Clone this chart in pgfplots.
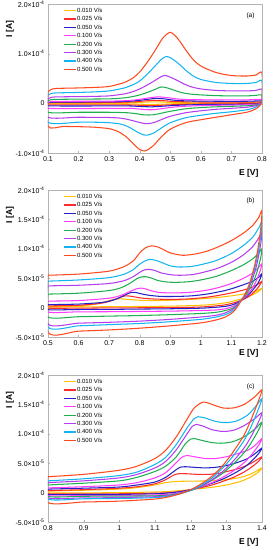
\documentclass[border=0pt]{standalone}
\usepackage{fontspec}
\setmainfont{Liberation Sans}
\usepackage{pgfplots}
\pgfplotsset{compat=1.18}
\definecolor{c010}{HTML}{FFC000}
\definecolor{c025}{HTML}{FF2A2A}
\definecolor{c050}{HTML}{2323C8}
\definecolor{c100}{HTML}{FF3CFF}
\definecolor{c200}{HTML}{1EB050}
\definecolor{c300}{HTML}{B43CF0}
\definecolor{c400}{HTML}{14B4F0}
\definecolor{c500}{HTML}{FF4A1E}
\newcommand{\sci}[2]{#1×10\textsuperscript{#2}}
\pgfplotsset{
  cvaxis/.style={
    scale only axis, width=214pt, clip mode=individual,
    axis line style={gray!60}, tick style={gray!60, major tick length=2pt},
    tick align=inside, tick pos=left,
    every tick label/.append style={font=\fontsize{7}{8}\selectfont},
    xticklabel style={/pgf/number format/assume math mode=true, /pgf/number format/fixed},
    xlabel={E [V]},
    xlabel style={at={(axis description cs:1,0)}, anchor=east, font=\bfseries\fontsize{8.5}{9}\selectfont},
    ylabel={I [A]},
    ylabel style={at={(axis description cs:-0.178,0.91)}, anchor=east, font=\bfseries\fontsize{8.5}{9}\selectfont},
    legend style={draw=none, fill=none, at={(axis description cs:0.07,0.985)}, anchor=north west,
      font=\fontsize{6}{7}\selectfont, row sep=0pt, inner sep=0pt,
      nodes={inner sep=0.7pt, text height=5.3pt, text depth=1.7pt}},
    legend cell align=left,
    legend image code/.code={\draw[#1, line width=1.2pt] (0pt,0pt) -- (12pt,0pt);},
    every axis plot/.append style={line width=1.05pt, smooth, tension=0.45, no markers},
  }
}
\begin{document}
\begin{tikzpicture}
\useasboundingbox (0,0) rectangle (274pt,550pt);
% ---------------- (a)
\begin{axis}[cvaxis, at={(48pt,397pt)}, anchor=south west, height=149pt,
  xmin=0.1, xmax=0.8, ymin=-10, ymax=20, xtick={0.1,0.2,...,0.8},
  ytick={-10,0,10,20}, yticklabels={\sci{-1.0}{-4},0,\sci{1.0}{-4},\sci{2.0}{-4}},
  xlabel style={yshift=-20pt}]
\addplot[c010] coordinates {(0.1,0.0)(0.12,0.05)(0.3,0.07)(0.38,0.15)(0.42,0.25)(0.45,0.3)(0.48,0.25)(0.52,0.15)(0.6,0.1)(0.8,0.12)(0.8,0.05)(0.78,-0.03)(0.6,-0.06)(0.5,-0.12)(0.45,-0.2)(0.42,-0.2)(0.38,-0.15)(0.3,-0.12)(0.1,-0.12)(0.1,0.0)};
\addplot[c025] coordinates {(0.1,0.05)(0.12,0.15)(0.3,0.18)(0.38,0.3)(0.42,0.5)(0.45,0.6)(0.48,0.52)(0.52,0.35)(0.6,0.27)(0.75,0.25)(0.8,0.3)(0.8,0.1)(0.78,-0.05)(0.7,-0.1)(0.58,-0.15)(0.5,-0.3)(0.45,-0.45)(0.42,-0.45)(0.38,-0.35)(0.3,-0.3)(0.1,-0.3)(0.1,0.05)};
\addplot[c050] coordinates {(0.1,0.1)(0.11,0.2)(0.13,0.25)(0.3,0.3)(0.36,0.4)(0.4,0.6)(0.43,0.85)(0.455,1.0)(0.48,0.9)(0.51,0.65)(0.55,0.5)(0.65,0.42)(0.75,0.42)(0.8,0.5)(0.8,0.15)(0.79,-0.05)(0.77,-0.15)(0.7,-0.2)(0.6,-0.25)(0.52,-0.4)(0.47,-0.6)(0.44,-0.7)(0.42,-0.68)(0.39,-0.6)(0.35,-0.52)(0.1,-0.5)(0.1,0.1)};
\addplot[c100] coordinates {(0.1,0.2)(0.11,0.35)(0.13,0.4)(0.3,0.45)(0.36,0.55)(0.4,0.8)(0.43,1.1)(0.46,1.3)(0.49,1.15)(0.52,0.9)(0.56,0.75)(0.65,0.7)(0.75,0.7)(0.8,0.8)(0.8,0.2)(0.79,-0.1)(0.77,-0.25)(0.7,-0.35)(0.6,-0.45)(0.52,-0.7)(0.48,-1.0)(0.45,-1.25)(0.435,-1.3)(0.415,-1.25)(0.39,-1.1)(0.35,-1.0)(0.1,-1.0)(0.1,0.2)};
\addplot[c200] coordinates {(0.1,0.5)(0.11,0.75)(0.13,0.8)(0.2,0.85)(0.3,0.9)(0.35,1.1)(0.38,1.4)(0.4,1.7)(0.425,2.2)(0.45,2.8)(0.47,3.3)(0.49,3.1)(0.51,2.7)(0.535,2.2)(0.56,1.9)(0.6,1.7)(0.65,1.55)(0.7,1.5)(0.75,1.5)(0.78,1.6)(0.8,1.7)(0.8,0.3)(0.79,-0.2)(0.77,-0.4)(0.75,-0.5)(0.7,-0.6)(0.65,-0.7)(0.6,-0.85)(0.55,-1.1)(0.5,-1.6)(0.47,-2.0)(0.445,-2.3)(0.43,-2.35)(0.41,-2.3)(0.39,-2.1)(0.36,-1.9)(0.3,-1.8)(0.2,-1.8)(0.1,-1.8)(0.1,0.5)};
\addplot[c300] coordinates {(0.1,0.9)(0.11,1.2)(0.13,1.3)(0.2,1.35)(0.25,1.4)(0.3,1.5)(0.35,1.9)(0.38,2.4)(0.4,2.9)(0.425,3.7)(0.45,4.6)(0.465,5.2)(0.48,5.6)(0.495,5.4)(0.52,4.7)(0.545,3.9)(0.57,3.3)(0.6,2.9)(0.65,2.6)(0.7,2.5)(0.75,2.5)(0.78,2.6)(0.8,2.8)(0.8,0.4)(0.795,-0.1)(0.785,-0.4)(0.77,-0.6)(0.75,-0.8)(0.7,-1.0)(0.65,-1.2)(0.6,-1.5)(0.55,-1.9)(0.5,-2.6)(0.47,-3.3)(0.445,-3.9)(0.425,-4.1)(0.41,-4.0)(0.39,-3.7)(0.365,-3.3)(0.34,-3.0)(0.3,-2.85)(0.2,-2.8)(0.1,-2.8)(0.1,0.9)};
\addplot[c400] coordinates {(0.1,1.6)(0.11,2.0)(0.13,2.1)(0.2,2.2)(0.25,2.3)(0.3,2.5)(0.35,3.1)(0.38,3.8)(0.4,4.5)(0.425,5.9)(0.45,7.5)(0.47,8.8)(0.485,9.4)(0.5,9.2)(0.525,8.1)(0.55,6.7)(0.575,5.5)(0.6,4.8)(0.65,4.2)(0.7,4.0)(0.75,4.0)(0.78,4.2)(0.8,4.5)(0.8,0.5)(0.795,-0.2)(0.785,-0.6)(0.77,-1.0)(0.75,-1.3)(0.7,-1.7)(0.65,-2.0)(0.6,-2.4)(0.55,-2.9)(0.5,-3.9)(0.47,-5.0)(0.445,-6.0)(0.425,-6.4)(0.41,-6.3)(0.39,-5.7)(0.365,-4.8)(0.34,-4.2)(0.3,-3.9)(0.25,-3.8)(0.2,-3.8)(0.1,-3.8)(0.1,1.6)};
\addplot[c500] coordinates {(0.1,2.3)(0.11,2.8)(0.13,3.0)(0.2,3.1)(0.25,3.2)(0.3,3.4)(0.35,4.2)(0.38,5.2)(0.4,6.3)(0.425,8.3)(0.45,10.6)(0.475,13.1)(0.5,14.3)(0.525,13.0)(0.55,10.8)(0.575,8.8)(0.6,7.5)(0.65,6.2)(0.7,5.6)(0.75,5.5)(0.78,5.7)(0.8,6.1)(0.8,0.5)(0.795,-0.3)(0.785,-0.9)(0.77,-1.4)(0.75,-1.8)(0.7,-2.3)(0.65,-2.8)(0.6,-3.3)(0.55,-3.9)(0.5,-5.2)(0.47,-6.8)(0.445,-8.5)(0.425,-9.4)(0.415,-9.6)(0.4,-9.3)(0.38,-8.2)(0.355,-6.7)(0.33,-5.7)(0.3,-5.1)(0.25,-4.8)(0.2,-4.7)(0.15,-4.65)(0.1,-4.6)(0.1,2.3)};
\legend{0.010 V/s,0.025 V/s,0.050 V/s,0.100 V/s,0.200 V/s,0.300 V/s,0.400 V/s,0.500 V/s}
\node[anchor=north east, font=\fontsize{6.5}{7}\selectfont, xshift=-4pt, yshift=-5pt] at (rel axis cs:1,1) {(a)};
\end{axis}
% ---------------- (b)
\begin{axis}[cvaxis, at={(48pt,213pt)}, anchor=south west, height=147pt,
  xmin=0.5, xmax=1.2, ymin=-5, ymax=20, xtick={0.5,0.6,...,1.2},
  ytick={-5,0,5,10,15,20}, yticklabels={\sci{-5.0}{-5},0,\sci{5.0}{-5},\sci{1.0}{-4},\sci{1.5}{-4},\sci{2.0}{-4}},
  xlabel style={yshift=-16.5pt}]
\addplot[c010] coordinates {(0.5,0.15)(0.6,0.3)(0.66,0.6)(0.7,1.2)(0.72,1.45)(0.735,1.5)(0.76,1.4)(0.8,1.25)(0.85,1.2)(0.9,1.25)(0.95,1.35)(1.0,1.5)(1.05,1.7)(1.1,2.0)(1.15,2.4)(1.18,2.8)(1.2,3.3)(1.19,2.8)(1.17,2.2)(1.15,1.75)(1.12,1.3)(1.09,0.9)(1.05,0.6)(1.0,0.4)(0.9,0.25)(0.7,0.15)(0.5,0.1)(0.5,0.15)};
\addplot[c025] coordinates {(0.5,0.3)(0.6,0.4)(0.68,0.8)(0.72,1.4)(0.745,1.9)(0.76,2.0)(0.78,1.85)(0.81,1.6)(0.85,1.45)(0.9,1.4)(0.95,1.45)(1.0,1.65)(1.05,2.0)(1.1,2.5)(1.14,3.0)(1.17,3.5)(1.19,4.1)(1.2,4.5)(1.19,3.6)(1.175,2.7)(1.16,2.0)(1.14,1.4)(1.12,1.0)(1.1,0.7)(1.07,0.4)(1.0,0.1)(0.9,0.0)(0.7,-0.05)(0.5,-0.1)(0.5,0.3)};
\addplot[c050] coordinates {(0.5,0.5)(0.6,0.6)(0.68,0.9)(0.72,1.4)(0.75,2.1)(0.77,2.55)(0.785,2.6)(0.8,2.4)(0.83,2.1)(0.87,1.9)(0.92,1.9)(0.97,2.0)(1.02,2.3)(1.07,2.8)(1.1,3.2)(1.14,3.9)(1.17,4.5)(1.19,5.2)(1.2,5.8)(1.195,5.0)(1.185,4.0)(1.17,3.0)(1.155,2.1)(1.14,1.5)(1.125,1.0)(1.11,0.6)(1.09,0.3)(1.06,0.1)(1.0,-0.1)(0.9,-0.2)(0.8,-0.25)(0.7,-0.3)(0.6,-0.32)(0.5,-0.35)(0.5,0.5)};
\addplot[c100] coordinates {(0.5,1.1)(0.6,1.2)(0.7,1.6)(0.74,2.1)(0.77,2.8)(0.79,3.2)(0.8,3.3)(0.815,3.25)(0.835,2.9)(0.86,2.6)(0.9,2.5)(0.95,2.55)(1.0,2.8)(1.05,3.3)(1.1,4.1)(1.14,5.0)(1.17,5.9)(1.19,6.9)(1.2,7.5)(1.195,6.4)(1.185,5.0)(1.175,3.9)(1.16,2.7)(1.145,1.8)(1.13,1.1)(1.115,0.5)(1.1,0.1)(1.08,-0.2)(1.05,-0.4)(1.0,-0.5)(0.9,-0.6)(0.8,-0.65)(0.7,-0.7)(0.6,-0.72)(0.5,-0.75)(0.5,1.1)};
\addplot[c200] coordinates {(0.5,2.3)(0.6,2.45)(0.7,2.9)(0.74,3.4)(0.77,4.2)(0.79,4.9)(0.805,5.2)(0.82,5.25)(0.84,5.0)(0.86,4.6)(0.89,4.35)(0.92,4.3)(0.96,4.4)(1.0,4.7)(1.05,5.3)(1.1,6.3)(1.14,7.3)(1.17,8.3)(1.19,9.3)(1.2,10.0)(1.195,8.3)(1.185,6.3)(1.175,4.8)(1.16,3.2)(1.145,2.0)(1.13,1.1)(1.115,0.3)(1.1,-0.2)(1.08,-0.5)(1.05,-0.8)(1.0,-1.0)(0.9,-1.2)(0.8,-1.35)(0.7,-1.45)(0.6,-1.55)(0.5,-1.6)(0.5,2.3)};
\addplot[c300] coordinates {(0.5,3.7)(0.6,3.8)(0.7,4.1)(0.75,4.6)(0.78,5.3)(0.8,6.0)(0.815,6.4)(0.83,6.5)(0.85,6.3)(0.87,5.9)(0.9,5.6)(0.93,5.5)(0.97,5.6)(1.0,5.9)(1.05,6.6)(1.1,7.7)(1.14,9.0)(1.17,10.4)(1.19,11.9)(1.2,12.8)(1.195,10.5)(1.185,7.8)(1.175,5.8)(1.16,3.7)(1.145,2.2)(1.13,1.1)(1.115,0.2)(1.1,-0.4)(1.08,-0.9)(1.05,-1.3)(1.0,-1.6)(0.9,-2.0)(0.8,-2.3)(0.7,-2.5)(0.6,-2.65)(0.5,-2.8)(0.5,3.7)};
\addplot[c400] coordinates {(0.5,4.5)(0.6,4.7)(0.7,5.1)(0.75,5.7)(0.78,6.5)(0.8,7.4)(0.82,8.0)(0.835,8.2)(0.855,8.0)(0.88,7.5)(0.9,7.1)(0.93,6.9)(0.97,7.0)(1.0,7.3)(1.05,8.0)(1.1,9.2)(1.14,10.6)(1.17,12.0)(1.19,13.6)(1.2,14.6)(1.195,11.8)(1.185,8.7)(1.175,6.5)(1.16,4.0)(1.145,2.3)(1.13,1.1)(1.115,0.0)(1.1,-0.7)(1.08,-1.2)(1.05,-1.6)(1.0,-2.0)(0.9,-2.4)(0.8,-2.7)(0.7,-2.9)(0.6,-3.1)(0.5,-3.3)(0.5,4.5)};
\addplot[c500] coordinates {(0.5,5.5)(0.6,5.7)(0.7,6.2)(0.75,7.0)(0.78,8.0)(0.8,9.3)(0.82,10.2)(0.84,10.5)(0.86,10.3)(0.88,9.8)(0.9,9.3)(0.94,8.9)(0.98,9.1)(1.02,9.6)(1.06,10.4)(1.1,11.4)(1.14,12.7)(1.17,14.0)(1.19,15.4)(1.2,16.5)(1.195,13.0)(1.185,9.5)(1.175,7.0)(1.16,4.2)(1.145,2.3)(1.13,1.0)(1.115,-0.2)(1.1,-1.0)(1.08,-1.6)(1.05,-2.1)(1.0,-2.6)(0.9,-3.1)(0.8,-3.5)(0.7,-3.8)(0.6,-4.0)(0.5,-4.2)(0.5,5.5)};
\legend{0.010 V/s,0.025 V/s,0.050 V/s,0.100 V/s,0.200 V/s,0.300 V/s,0.400 V/s,0.500 V/s}
\node[anchor=north east, font=\fontsize{6.5}{7}\selectfont, xshift=-4pt, yshift=-4pt] at (rel axis cs:1,1) {(b)};
\end{axis}
% ---------------- (c)
\begin{axis}[cvaxis, at={(48pt,28pt)}, anchor=south west, height=147pt,
  xmin=0.8, xmax=1.4, ymin=-5, ymax=20, xtick={0.8,0.9,...,1.4},
  ytick={-5,0,5,10,15,20}, yticklabels={\sci{-5.0}{-5},0,\sci{5.0}{-5},\sci{1.0}{-4},\sci{1.5}{-4},\sci{2.0}{-4}},
  xlabel style={yshift=-20pt}]
\addplot[c010] coordinates {(0.8,0.25)(0.9,0.4)(1.0,0.6)(1.05,0.85)(1.1,1.3)(1.13,1.7)(1.16,1.9)(1.2,1.95)(1.25,2.0)(1.3,2.2)(1.34,2.6)(1.37,3.2)(1.4,4.2)(1.39,3.5)(1.37,2.7)(1.34,1.9)(1.3,1.3)(1.26,0.9)(1.22,0.65)(1.18,0.4)(1.14,0.2)(1.1,0.1)(1.0,0.0)(0.9,-0.05)(0.8,-0.05)(0.8,0.25)};
\addplot[c025] coordinates {(0.8,0.35)(0.9,0.5)(1.0,0.75)(1.05,1.0)(1.1,1.5)(1.13,2.2)(1.15,2.9)(1.165,3.2)(1.19,3.2)(1.22,3.1)(1.25,3.1)(1.28,3.3)(1.31,3.7)(1.34,4.2)(1.37,5.0)(1.4,6.1)(1.39,5.3)(1.37,4.3)(1.35,3.5)(1.32,2.6)(1.29,1.9)(1.26,1.3)(1.23,0.85)(1.2,0.5)(1.17,0.2)(1.14,0.0)(1.1,-0.1)(1.0,-0.2)(0.9,-0.2)(0.8,-0.2)(0.8,0.35)};
\addplot[c050] coordinates {(0.8,0.6)(0.9,0.75)(1.0,0.95)(1.05,1.3)(1.1,1.8)(1.13,2.6)(1.155,3.7)(1.17,4.3)(1.185,4.4)(1.21,4.3)(1.24,4.2)(1.27,4.3)(1.3,4.6)(1.33,5.1)(1.36,5.8)(1.38,6.6)(1.4,7.6)(1.39,6.6)(1.37,5.3)(1.35,4.3)(1.32,3.2)(1.29,2.3)(1.26,1.6)(1.23,1.0)(1.2,0.5)(1.17,0.15)(1.14,-0.05)(1.1,-0.2)(1.0,-0.3)(0.9,-0.3)(0.8,-0.3)(0.8,0.6)};
\addplot[c100] coordinates {(0.8,0.8)(0.9,1.0)(1.0,1.3)(1.05,1.7)(1.1,2.5)(1.13,3.4)(1.155,4.8)(1.175,6.0)(1.19,6.3)(1.21,6.1)(1.24,5.8)(1.27,5.8)(1.3,6.1)(1.33,6.6)(1.36,7.2)(1.38,8.0)(1.4,9.2)(1.39,8.0)(1.37,6.4)(1.35,5.1)(1.32,3.7)(1.29,2.6)(1.26,1.7)(1.23,1.0)(1.2,0.4)(1.17,0.0)(1.14,-0.25)(1.1,-0.4)(1.0,-0.5)(0.9,-0.5)(0.8,-0.5)(0.8,0.8)};
\addplot[c200] coordinates {(0.8,1.3)(0.9,1.6)(1.0,2.0)(1.05,2.6)(1.1,3.6)(1.13,4.5)(1.16,6.1)(1.185,8.3)(1.2,9.1)(1.21,9.2)(1.23,8.9)(1.26,8.5)(1.29,8.4)(1.32,8.7)(1.35,9.5)(1.38,10.8)(1.4,12.0)(1.39,10.6)(1.37,8.5)(1.35,6.8)(1.32,4.9)(1.29,3.3)(1.26,2.1)(1.23,1.1)(1.2,0.35)(1.17,-0.1)(1.14,-0.4)(1.1,-0.55)(1.0,-0.6)(0.9,-0.62)(0.8,-0.65)(0.8,1.3)};
\addplot[c300] coordinates {(0.8,1.7)(0.9,2.0)(1.0,2.5)(1.05,3.1)(1.1,4.2)(1.13,5.3)(1.16,7.3)(1.19,10.0)(1.205,11.3)(1.215,11.6)(1.235,11.3)(1.26,10.7)(1.29,10.4)(1.32,10.6)(1.35,11.4)(1.38,12.6)(1.4,13.6)(1.39,12.0)(1.37,9.6)(1.35,7.6)(1.32,5.4)(1.29,3.6)(1.26,2.2)(1.23,1.2)(1.2,0.4)(1.17,-0.15)(1.14,-0.5)(1.1,-0.7)(1.0,-0.85)(0.9,-0.9)(0.8,-0.9)(0.8,1.7)};
\addplot[c400] coordinates {(0.8,2.0)(0.9,2.35)(1.0,2.9)(1.05,3.5)(1.1,4.8)(1.13,6.0)(1.16,8.2)(1.19,11.0)(1.21,12.6)(1.22,12.9)(1.24,12.7)(1.27,12.1)(1.3,11.9)(1.33,12.2)(1.36,13.2)(1.38,14.5)(1.4,16.0)(1.39,14.2)(1.37,11.3)(1.35,8.9)(1.32,6.3)(1.29,4.2)(1.26,2.5)(1.23,1.3)(1.2,0.4)(1.17,-0.2)(1.14,-0.6)(1.1,-0.85)(1.0,-1.0)(0.9,-1.05)(0.8,-1.1)(0.8,2.0)};
\addplot[c500] coordinates {(0.8,2.7)(0.9,3.1)(1.0,3.8)(1.05,4.5)(1.1,5.8)(1.13,7.2)(1.16,9.5)(1.19,12.5)(1.21,14.4)(1.235,15.4)(1.26,15.0)(1.29,14.4)(1.32,14.4)(1.35,15.0)(1.38,16.3)(1.4,17.5)(1.39,15.6)(1.37,12.5)(1.35,9.8)(1.32,7.0)(1.29,4.6)(1.26,2.8)(1.23,1.5)(1.2,0.5)(1.17,-0.2)(1.14,-0.7)(1.1,-1.1)(1.0,-1.45)(0.9,-1.6)(0.8,-1.7)(0.8,2.7)};
\legend{0.010 V/s,0.025 V/s,0.050 V/s,0.100 V/s,0.200 V/s,0.300 V/s,0.400 V/s,0.500 V/s}
\node[anchor=north east, font=\fontsize{6.5}{7}\selectfont, xshift=-4pt, yshift=-5pt] at (rel axis cs:1,1) {(c)};
\end{axis}
\end{tikzpicture}
\end{document}
